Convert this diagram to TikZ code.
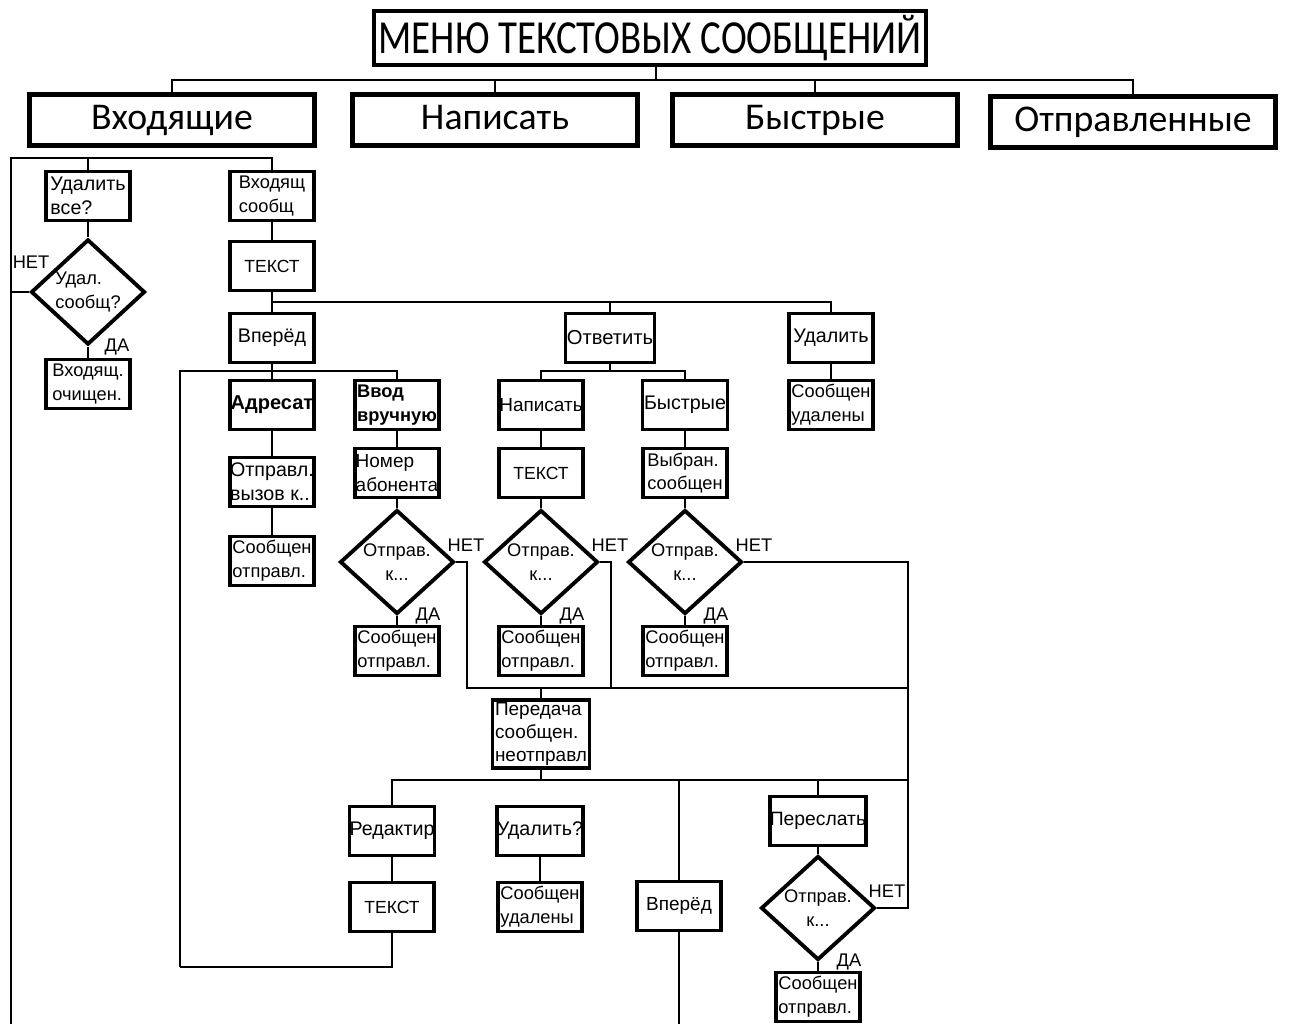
\documentclass[tikz,border=0pt]{standalone}
\usepackage{fontspec}
\setmainfont{Liberation Sans}
\newfontfamily\calib{Carlito}
\usetikzlibrary{shapes.geometric,calc}

\begin{document}
\begin{tikzpicture}[x=0.02cm,y=-0.02cm,
  ln/.style={line width=1pt},
  box/.style={draw,line width=2.2pt,minimum width=1.68cm,minimum height=0.98cm,inner xsep=0pt,inner ysep=1pt,align=left,font=\fontsize{10.4}{13.5}\selectfont},
  lg/.style={font=\fontsize{11.2}{13.5}\selectfont},
  bld/.style={font=\bfseries\fontsize{10.4}{13.5}\selectfont},
  dia/.style={draw,diamond,line width=2.2pt,minimum width=2.28cm,minimum height=1.8cm,inner sep=0pt,align=center,font=\fontsize{10.4}{13.5}\selectfont},
  lvl/.style={draw,line width=2.6pt,minimum width=5.7cm,minimum height=1.02cm,text height=15pt,text depth=4pt,font=\calib\fontsize{21.5}{24}\selectfont},
  lbl/.style={font=\fontsize{10.4}{12}\selectfont,inner sep=0pt}]
\useasboundingbox (0,0) rectangle (1289,1024);

\node[draw,line width=2.6pt,minimum width=11.04cm,minimum height=1.08cm,inner sep=0pt,font=\calib\fontsize{27}{30}\selectfont] (M) at (650,38) {\scalebox{0.82}[1]{МЕНЮ ТЕКСТОВЫХ СООБЩЕНИЙ}};
\node[lvl] (In) at (172,120) {Входящие};
\node[lvl] (Wr) at (495,120) {Написать};
\node[lvl] (Qk) at (815,120) {Быстрые};
\node[lvl] (Snt) at (1133,122) {Отправленные};

\coordinate (t) at (656,80);
\draw[ln] (t |- M.south) -- (t);
\foreach \n in {In,Wr,Qk,Snt} \draw[ln] (t) -| (\n.north);

% inbox
\coordinate (L) at (11,158);
\coordinate (Lb) at (11,1024);
\node[box,lg] (Dall) at (88,196) {Удалить\\все?};
\node[dia,align=left] (Dq) at (88,292) {Удал.\\сообщ?};
\node[box] (Clr) at (88,384) {Входящ.\\очищен.};
\node[box] (Ib) at (272,196) {Входящ\\сообщ};
\node[box,font=\fontsize{10}{13.5}\selectfont] (T1) at (272,266) {ТЕКСТ};
\node[box,lg] (Fw1) at (272,338) {Вперёд};

\draw[ln] (Dall.north) |- (L) -- (Lb);
\draw[ln] (Ib.north) |- (L);
\draw[ln] (Dall) -- (Dq) -- (Clr);
\draw[ln] (Dq.west) -- (Dq.west -| L);
\node[lbl] at ($(Dq.west)+(2,-30)$) {НЕТ};
\node[lbl] at ($(Dq.south)+(29,0)$) {ДА};
\draw[ln] (Ib) -- (T1) -- (Fw1);

% forward
\node[box,bld,font=\bfseries\fontsize{11.4}{13.5}\selectfont] (Adr) at (272,405) {Адресат};
\node[box,lg] (Call) at (272,482) {Отправл.\\вызов к..};
\node[box] (S1) at (272,561) {Сообщен\\отправл.};
\node[box,bld] (Man) at (397,405) {Ввод\\вручную};
\node[box,font=\fontsize{10.8}{13.5}\selectfont] (Num) at (397,473) {Номер\\абонента};
\node[dia] (D1) at (397,562) {Отправ.\\к...};
\node[box] (S2) at (397,651) {Сообщен\\отправл.};

\coordinate (f) at (272,371);
\coordinate (R) at (180,371);
\coordinate (Rb) at (180,967);
\draw[ln] (Fw1) -- (Adr) -- (Call) -- (S1);
\draw[ln] (f) -| (Man.north);
\draw[ln] (f) -- (R) -- (Rb);
\draw[ln] (Man) -- (Num) -- (D1) -- (S2);

% reply, delete
\node[box,minimum width=1.78cm,font=\fontsize{11.5}{13.5}\selectfont] (Rep) at (610,338) {Ответить};
\node[box,lg] (Del) at (831,338) {Удалить};
\node[box] (Dd1) at (831,405) {Сообщен\\удалены};
\node[box,font=\fontsize{10.8}{13.5}\selectfont] (Wr2) at (541,405) {Написать};
\node[box,font=\fontsize{10}{13.5}\selectfont] (T2) at (541,473) {ТЕКСТ};
\node[dia] (D2) at (541,562) {Отправ.\\к...};
\node[box] (S3) at (541,651) {Сообщен\\отправл.};
\node[box,lg,minimum width=1.7cm] (Qk2) at (685,405) {Быстрые};
\node[box] (Sel) at (685,473) {Выбран.\\сообщен};
\node[dia] (D3) at (685,562) {Отправ.\\к...};
\node[box] (S4) at (685,651) {Сообщен\\отправл.};

\coordinate (r) at (272,302);
\coordinate (q) at (610,371);
\draw[ln] (r) -| (Rep.north);
\draw[ln] (r) -| (Del.north);
\draw[ln] (Del) -- (Dd1);
\draw[ln] (Rep.south) -- (q);
\draw[ln] (q) -| (Wr2.north);
\draw[ln] (q) -| (Qk2.north);
\draw[ln] (Wr2) -- (T2) -- (D2) -- (S3);
\draw[ln] (Qk2) -- (Sel) -- (D3) -- (S4);

% not sent
\coordinate (n0) at (467,688);
\coordinate (n1) at (908,688);
\coordinate (m0) at (908,780);
\node[box,minimum width=1.94cm,minimum height=1.36cm,font=\fontsize{10.8}{13}\selectfont] (Tx) at (541,734) {Передача\\сообщен.\\неотправл};
\node[box,lg] (Ed) at (392,831) {Редактир};
\node[box,font=\fontsize{10}{13.5}\selectfont] (T3) at (392,907) {ТЕКСТ};
\node[box,lg,minimum width=1.72cm] (Del2) at (540,831) {Удалить?};
\node[box] (Dd2) at (540,907) {Сообщен\\удалены};
\node[box,font=\fontsize{10.8}{13.5}\selectfont] (Fw2) at (679,906) {Вперёд};
\node[box,font=\fontsize{11}{13.5}\selectfont,minimum width=1.92cm] (Rs) at (818,821) {Переслать};
\node[dia] (D4) at (818,908) {Отправ.\\к...};
\node[box] (S5) at (818,997) {Сообщен\\отправл.};

\draw[ln] (D1.east) -| (n0) -- (n1);
\draw[ln] (D2.east) -- ++(11,0) |- (n0);
\draw[ln] (D3.east) -- (D3.east -| n1) -- (D4.east -| n1) -- (D4.east);
\draw[ln] (Tx.north) -- (Tx.north |- n0);
\draw[ln] (Tx.south) -- (Tx.south |- m0);
\draw[ln] (Ed.north) |- (m0);
\draw[ln] (Fw2.north) |- (m0);
\draw[ln] (Rs.north) |- (m0);
\draw[ln] (Ed) -- (T3);
\draw[ln] (Rb) -| (T3.south);
\draw[ln] (Del2) -- (Dd2);
\draw[ln] (Fw2.south) -- (Fw2.south |- Lb);
\draw[ln] (Rs) -- (D4) -- (S5);

\foreach \d in {D1,D2,D3,D4} {
  \node[lbl] at ($(\d.east)+(10,-17)$) {НЕТ};
  \node[lbl] at ($(\d.south)+(31,0)$) {ДА};
}

\end{tikzpicture}
\end{document}
